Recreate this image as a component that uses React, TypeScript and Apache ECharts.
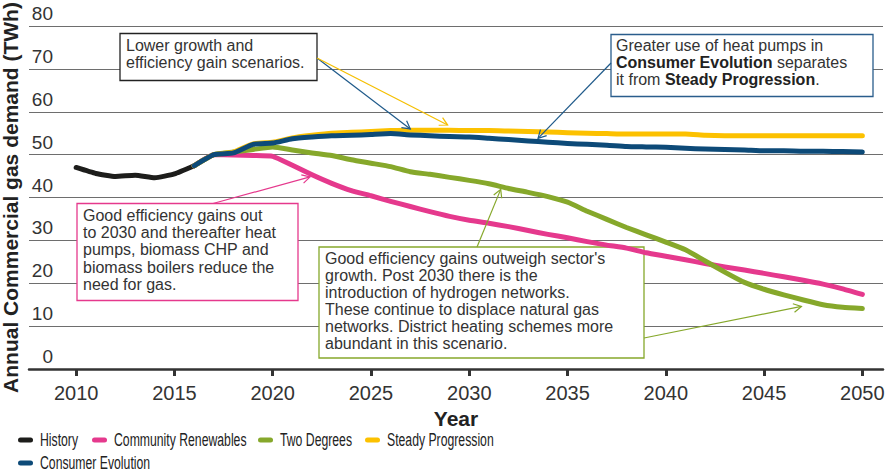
import React, { useEffect, useRef } from "react";
import * as echarts from "echarts";

const historyYears = [2010, 2011, 2012, 2013, 2014, 2015, 2016];
const historyValues = [47.0, 45.6, 44.9, 45.2, 44.6, 45.5, 47.4];

const scenarioYears = [
  2016, 2017, 2018, 2019, 2020, 2021, 2022, 2023, 2024, 2025,
  2026, 2027, 2028, 2029, 2030, 2031, 2032, 2033, 2034, 2035,
  2036, 2037, 2038, 2039, 2040, 2041, 2042, 2043, 2044, 2045,
  2046, 2047, 2048, 2049, 2050,
];
const communityRenewables = [
  47.4, 50.0, 49.9, 49.8, 49.6, 47.5, 45.3, 43.3, 41.6, 40.4,
  39.1, 37.9, 36.7, 35.6, 34.7, 34.0, 33.2, 32.3, 31.4, 30.6,
  29.7, 28.9, 28.2, 27.1, 26.3, 25.5, 24.6, 23.8, 23.1, 22.3,
  21.5, 20.7, 19.8, 18.7, 17.4,
];
const twoDegrees = [
  47.4, 50.0, 50.6, 51.2, 51.8, 51.1, 50.4, 49.8, 48.8, 48.0,
  47.2, 46.0, 45.4, 44.7, 44.0, 43.2, 42.1, 41.2, 40.2, 38.9,
  36.8, 34.9, 33.0, 31.3, 29.6, 27.8, 25.2, 22.6, 20.2, 18.6,
  17.3, 16.1, 15.0, 14.4, 14.1,
];
const steadyProgression = [
  47.4, 50.0, 50.6, 52.5, 52.9, 53.9, 54.5, 55.0, 55.2, 55.4,
  55.6, 55.7, 55.7, 55.7, 55.6, 55.6, 55.5, 55.4, 55.3, 55.1,
  55.0, 54.9, 54.8, 54.8, 54.8, 54.8, 54.5, 54.4, 54.4, 54.4,
  54.4, 54.4, 54.4, 54.4, 54.4,
];
const consumerEvolution = [
  47.4, 50.0, 50.4, 52.4, 52.7, 53.7, 54.1, 54.4, 54.5, 54.7,
  54.9, 54.6, 54.4, 54.2, 54.1, 53.8, 53.5, 53.2, 52.9, 52.6,
  52.4, 52.2, 51.9, 51.8, 51.7, 51.5, 51.3, 51.2, 51.1, 50.9,
  50.9, 50.8, 50.8, 50.7, 50.6,
];

const xTickYears = [2010, 2015, 2020, 2025, 2030, 2035, 2040, 2045, 2050];

const seriesNames = [
  "History",
  "Community Renewables",
  "Two Degrees",
  "Steady Progression",
  "Consumer Evolution",
];
const colors = ["#1d1d1b", "#e5398d", "#86a82b", "#fcc100", "#0d4a78"];

const FONT = "'Liberation Sans', Arial, Helvetica, sans-serif";

const pair = (xs: number[], ys: number[]) => xs.map((x, i) => [x, ys[i]]);

export default function App() {
  const ref = useRef<HTMLDivElement>(null);

  useEffect(() => {
    if (!ref.current) return;
    const chart = echarts.init(ref.current, undefined, { renderer: "svg" });

    const dataSets = [
      pair(historyYears, historyValues),
      pair(scenarioYears, communityRenewables),
      pair(scenarioYears, twoDegrees),
      pair(scenarioYears, steadyProgression),
      pair(scenarioYears, consumerEvolution),
    ];

    chart.setOption({
      animation: false,
      color: colors,
      grid: {
        left: 29,
        right: 6,
        top: 26,
        bottom: 105,
        containLabel: false,
        outerBoundsMode: "none",
      },
      xAxis: {
        type: "value",
        min: 2007.6,
        max: 2051.05,
        name: "Year",
        nameLocation: "middle",
        nameGap: 33,
        nameTextStyle: { fontSize: 21, fontWeight: "bold", fontFamily: FONT, color: "#222" },
        axisLine: { show: true, lineStyle: { color: "#333", width: 2.5 } },
        axisTick: {
          show: true,
          customValues: xTickYears,
          length: 7,
          lineStyle: { color: "#333", width: 3 },
        },
        axisLabel: {
          customValues: xTickYears,
          fontSize: 20,
          fontFamily: FONT,
          color: "#333",
          margin: 14,
          formatter: (v: number) => String(v),
        },
        splitLine: { show: false },
      },
      yAxis: {
        type: "value",
        min: 0,
        max: 80,
        interval: 10,
        name: "Annual Commercial gas demand (TWh)",
        nameLocation: "middle",
        nameGap: -1,
        nameTextStyle: { fontSize: 21, fontWeight: "bold", fontFamily: FONT, color: "#222" },
        axisLine: { show: false },
        axisTick: { show: false },
        axisLabel: {
          inside: true,
          margin: 24,
          align: "right",
          verticalAlign: "bottom",
          padding: [0, 0, 3, 0],
          fontSize: 19,
          fontFamily: FONT,
          color: "#333",
        },
        splitLine: { show: true, lineStyle: { color: "#6e6e6e", width: 1 } },
      },
      series: seriesNames.map((name, i) => ({
        name,
        type: "line",
        data: dataSets[i],
        showSymbol: false,
        symbol: "none",
        smooth: 0.15,
        z: 2 + i,
        lineStyle: { width: 5, color: colors[i], cap: "round", join: "round" },
        itemStyle: { color: colors[i] },
        emphasis: { disabled: true },
      })),
    });

    const px = (p: number[]) => chart.convertToPixel({ gridIndex: 0 }, p) as number[];

    const arrow = (from: number[], to: number[], color: string) => {
      const ang = Math.atan2(to[1] - from[1], to[0] - from[0]);
      const L = 9;
      const a = 0.5;
      const pts = [
        [to[0] - L * Math.cos(ang - a), to[1] - L * Math.sin(ang - a)],
        [to[0], to[1]],
        [to[0] - L * Math.cos(ang + a), to[1] - L * Math.sin(ang + a)],
      ];
      return [
        {
          type: "line",
          z: 10,
          shape: { x1: from[0], y1: from[1], x2: to[0], y2: to[1] },
          style: { stroke: color, lineWidth: 1.2 },
        },
        {
          type: "polyline",
          z: 10,
          shape: { points: pts },
          style: { stroke: color, fill: null, lineWidth: 1.2 },
        },
      ];
    };

    const box = (x: number, y: number, w: number, h: number, stroke: string) => ({
      type: "rect",
      z: 1,
      shape: { x, y, width: w, height: h },
      style: { fill: "#fff", stroke, lineWidth: 1.3 },
    });

    const label = (x: number, y: number, text: string, lh: number, rich?: any) => ({
      type: "text",
      z: 1,
      x,
      y,
      style: {
        text,
        fontSize: 16,
        fontFamily: FONT,
        fill: "#333",
        lineHeight: lh,
        verticalAlign: "top",
        rich,
      },
    });

    const boldRich = {
      b: { fontSize: 16, fontFamily: FONT, fontWeight: "bold", fill: "#222", lineHeight: 16.6 },
    };

    // legend (horizontally condensed, as in the reference)
    const legendPos = [
      [18, 440],
      [92, 440],
      [258, 440],
      [365, 440],
      [18, 463],
    ];
    const legendItems = seriesNames.flatMap((name, i) => [
      {
        type: "rect",
        z: 5,
        shape: { x: legendPos[i][0], y: legendPos[i][1] - 2.5, width: 15, height: 5, r: 2.5 },
        style: { fill: colors[i] },
      },
      {
        type: "text",
        z: 5,
        x: legendPos[i][0] + 22,
        y: legendPos[i][1],
        scaleX: 0.68,
        style: {
          text: name,
          fontSize: 18,
          fontFamily: FONT,
          fill: "#222",
          verticalAlign: "middle",
          align: "left",
        },
      },
    ]);

    chart.setOption({
      graphic: [
        box(120, 33.5, 197, 47, "#222"),
        label(126, 37.5, "Lower growth and\nefficiency gain scenarios.", 16.7),
        box(611, 34.5, 262, 62, "#2a5d8c"),
        label(
          616,
          37.5,
          "Greater use of heat pumps in\n{b|Consumer Evolution} separates\nit from {b|Steady Progression}.",
          16.6,
          boldRich
        ),
        box(77, 203.5, 221, 97, "#e5398d"),
        label(
          83,
          206.5,
          "Good efficiency gains out\nto 2030 and thereafter heat\npumps, biomass CHP and\nbiomass boilers reduce the\nneed for gas.",
          17.3
        ),
        box(319, 247, 325, 111, "#86a82b"),
        label(
          325,
          249.5,
          "Good efficiency gains outweigh sector's\ngrowth. Post 2030 there is the\nintroduction of hydrogen networks.\nThese continue to displace natural gas\nnetworks. District heating schemes more\nabundant in this scenario.",
          17
        ),
        ...arrow([317, 58], px([2027.0, 56.0]), "#1f5a8a"),
        ...arrow([317, 58], px([2028.9, 56.9]), "#f5bf00"),
        ...arrow([611, 63], px([2033.5, 53.8]), "#1f5a8a"),
        ...arrow([213, 203.5], px([2021.9, 44.8]), "#e5398d"),
        ...arrow([477, 247], px([2031.6, 41.9]), "#86a82b"),
        ...arrow([644, 338], px([2046.9, 14.6]), "#86a82b"),
        ...legendItems,
      ],
    });

    return () => chart.dispose();
  }, []);

  return <div ref={ref} style={{ width: 889, height: 474, position: "absolute", left: 0, top: 0 }} />;
}
